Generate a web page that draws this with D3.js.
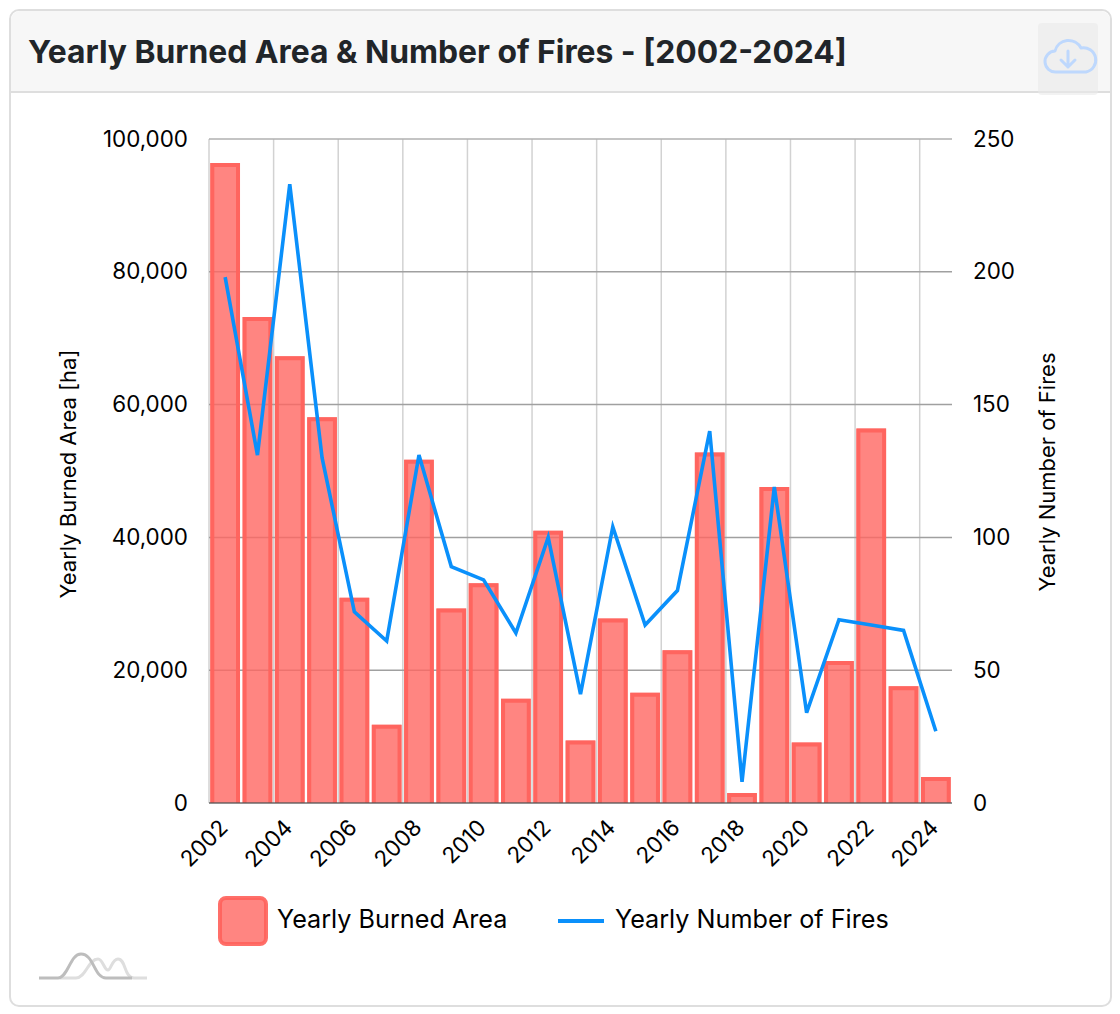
<!DOCTYPE html>
<html>
<head>
<meta charset="utf-8">
<script src="https://cdn.jsdelivr.net/npm/d3@7"></script>
<style>
  html, body { margin: 0; padding: 0; background: #fff; overflow: hidden; }
  svg { display: block; font-family: Inter, "Noto Sans", sans-serif; }
</style>
</head>
<body>
<div id="chart"></div>
<script>
const years = ['2002', '2003', '2004', '2005', '2006', '2007', '2008', '2009', '2010', '2011', '2012', '2013',
  '2014', '2015', '2016', '2017', '2018', '2019', '2020', '2021', '2022', '2023', '2024'];
const burnedArea = [96400, 73200, 67300, 58100, 30900, 11800, 51700, 29300, 33100, 15700, 41000, 9400,
  27800, 16600, 23000, 52800, 1500, 47600, 9100, 21400, 56400, 17600, 3900];
const numberOfFires = [198, 131, 233, 130, 72, 61, 131, 89, 84, 64, 100, 41,
  104, 67, 80, 140, 8, 119, 34, 69, 67, 65, 27];
const areaTicks = [0, 20000, 40000, 60000, 80000, 100000];
const fireTicks = [0, 50, 100, 150, 200, 250];
const yearTicks = years.filter((d, i) => i % 2 === 0);

const width = 1120;
const height = 1014;
const margin = { top: 139, right: 168, bottom: 211, left: 209 };
const plotW = width - margin.left - margin.right;
const plotH = height - margin.top - margin.bottom;

const barFill = 'rgba(255,102,97,0.8)';
const barStroke = 'rgba(255,99,92,0.92)';
const lineColour = '#0a90fb';

const svg = d3.select('#chart').append('svg')
  .attr('width', width)
  .attr('height', height);

// Card and header
svg.append('rect')
  .attr('x', 10).attr('y', 10).attr('width', 1101).attr('height', 996).attr('rx', 9)
  .attr('fill', '#fff').attr('stroke', '#dedede').attr('stroke-width', 2);
svg.append('path')
  .attr('d', 'M11,92 V20 a9,9 0 0 1 9,-9 H1101 a9,9 0 0 1 9,9 V92 Z')
  .attr('fill', '#f7f7f7');
svg.append('line')
  .attr('x1', 11).attr('x2', 1110).attr('y1', 92).attr('y2', 92)
  .attr('stroke', '#dedede').attr('stroke-width', 2);
svg.append('text')
  .attr('x', 28).attr('y', 63)
  .style('font-size', '31.8px').style('font-weight', '700').style('fill', '#212529')
  .text('Yearly Burned Area & Number of Fires - [2002-2024]');

// Download button
svg.append('rect')
  .attr('x', 1038).attr('y', 23).attr('width', 60).attr('height', 72).attr('rx', 4)
  .attr('fill', '#e9e9e9').attr('fill-opacity', 0.6);
const cloud = svg.append('g')
  .attr('fill', 'none').attr('stroke', '#bed8fd').attr('stroke-width', 3)
  .attr('stroke-linecap', 'round').attr('stroke-linejoin', 'round');
cloud.append('path')
  .attr('d', 'M1056,72 a10.5,10.5 0 0 1 -1,-21 a14,14 0 0 1 26,-3 a12,12 0 0 1 5,24 Z');
cloud.append('path').attr('d', 'M1068,51 V67 M1061,60 L1068,67 L1075,60');

const g = svg.append('g').attr('transform', `translate(${margin.left},${margin.top})`);

const x = d3.scaleBand().domain(years).range([0, plotW]);
const yArea = d3.scaleLinear().domain([0, 100000]).range([plotH, 0]);
const yFires = d3.scaleLinear().domain([0, 250]).range([plotH, 0]);

// Gridlines
g.append('g')
  .selectAll('line')
  .data(yearTicks)
  .join('line')
  .attr('x1', d => x(d)).attr('x2', d => x(d))
  .attr('y1', 0).attr('y2', plotH)
  .attr('stroke', '#d2d2d2').attr('stroke-width', 1.5);
g.append('g')
  .selectAll('line')
  .data(areaTicks.slice(1))
  .join('line')
  .attr('x1', 0).attr('x2', plotW)
  .attr('y1', d => yArea(d)).attr('y2', d => yArea(d))
  .attr('stroke', d => d === 100000 ? '#b0b0b0' : '#a0a0a0').attr('stroke-width', 1.5);

// Bars, border sits inside the bar
const barW = x.bandwidth() * 0.92;
const barOffset = (x.bandwidth() - barW) / 2;
g.append('g')
  .selectAll('path')
  .data(years)
  .join('path')
  .attr('d', (d, i) => {
    const left = x(d) + barOffset;
    const top = yArea(burnedArea[i]);
    return `M${left},${top}h${barW}v${plotH - top}h${-barW}Z`;
  })
  .attr('fill', barFill);
g.append('g')
  .selectAll('path')
  .data(years)
  .join('path')
  .attr('d', (d, i) => {
    const left = x(d) + barOffset + 2;
    const top = yArea(burnedArea[i]) + 2;
    return `M${left},${plotH}V${top}h${barW - 4}V${plotH}`;
  })
  .attr('fill', 'none')
  .attr('stroke', barStroke)
  .attr('stroke-width', 4);

// Base line
g.append('line')
  .attr('x1', 0).attr('x2', plotW).attr('y1', plotH).attr('y2', plotH)
  .attr('stroke', '#555').attr('stroke-opacity', 0.65).attr('stroke-width', 2);

// Number of fires line
const line = d3.line()
  .x(d => x(d) + x.bandwidth() / 2)
  .y((d, i) => yFires(numberOfFires[i]));
g.append('path')
  .attr('d', line(years))
  .attr('fill', 'none')
  .attr('stroke', lineColour)
  .attr('stroke-width', 3.6)
  .attr('stroke-linejoin', 'miter');

// Left axis
const axisLeft = d3.axisLeft(yArea).tickValues(areaTicks).tickFormat(d3.format(',')).tickSize(0).tickPadding(21);
const leftAxis = g.append('g').call(axisLeft);
leftAxis.select('.domain').remove();
leftAxis.selectAll('text').style('font-size', '22.4px').style('font-family', 'Inter').attr('fill', '#000');

// Right axis
const axisRight = d3.axisRight(yFires).tickValues(fireTicks).tickSize(0).tickPadding(21);
const rightAxis = g.append('g').attr('transform', `translate(${plotW},0)`).call(axisRight);
rightAxis.select('.domain').remove();
rightAxis.selectAll('text').style('font-size', '22.4px').style('font-family', 'Inter').attr('fill', '#000');

// Year labels, rotated, ending under the tick
const axisBottom = d3.axisBottom(x).tickValues(yearTicks).tickSize(0).tickFormat(d => d);
const bottomAxis = g.append('g').attr('transform', `translate(0,${plotH})`).call(axisBottom);
bottomAxis.select('.domain').remove();
bottomAxis.selectAll('text')
  .style('font-size', '22.4px').style('font-family', 'Inter').attr('fill', '#000')
  .attr('text-anchor', 'end')
  .attr('dy', 0).attr('y', 0)
  .attr('transform', 'translate(4,26) rotate(-45)');

// Axis titles
svg.append('text')
  .attr('transform', 'translate(76,474) rotate(-90)')
  .attr('text-anchor', 'middle')
  .style('font-size', '22px').text('Yearly Burned Area [ha]');
svg.append('text')
  .attr('transform', 'translate(1055,472) rotate(-90)')
  .attr('text-anchor', 'middle')
  .style('font-size', '22px').text('Yearly Number of Fires');

// Legend
svg.append('rect')
  .attr('x', 220).attr('y', 898).attr('width', 46).attr('height', 46).attr('rx', 6)
  .attr('fill', barFill).attr('stroke', barStroke).attr('stroke-width', 4);
svg.append('text').attr('x', 277).attr('y', 928)
  .style('font-size', '25.2px').text('Yearly Burned Area');
svg.append('line')
  .attr('x1', 558).attr('x2', 604).attr('y1', 921).attr('y2', 921)
  .attr('stroke', lineColour).attr('stroke-width', 4);
svg.append('text').attr('x', 615).attr('y', 928)
  .style('font-size', '25.2px').text('Yearly Number of Fires');

// Small logo, bottom left
const logo = svg.append('g').attr('fill', 'none').attr('stroke-width', 3).attr('stroke-linecap', 'butt');
logo.append('path')
  .attr('d', 'M60,978 H76 C86,978 88,959 98,959 C103,959 104,970 108,970 C111,970 112,959 118,959 C126,959 124,978 134,978 H147')
  .attr('stroke', '#dedede');
logo.append('path')
  .attr('d', 'M39,978 H58 C68,978 70,954 81,954 C94,954 94,978 106,978 H132')
  .attr('stroke', '#bdbdbd');
</script>
</body>
</html>
